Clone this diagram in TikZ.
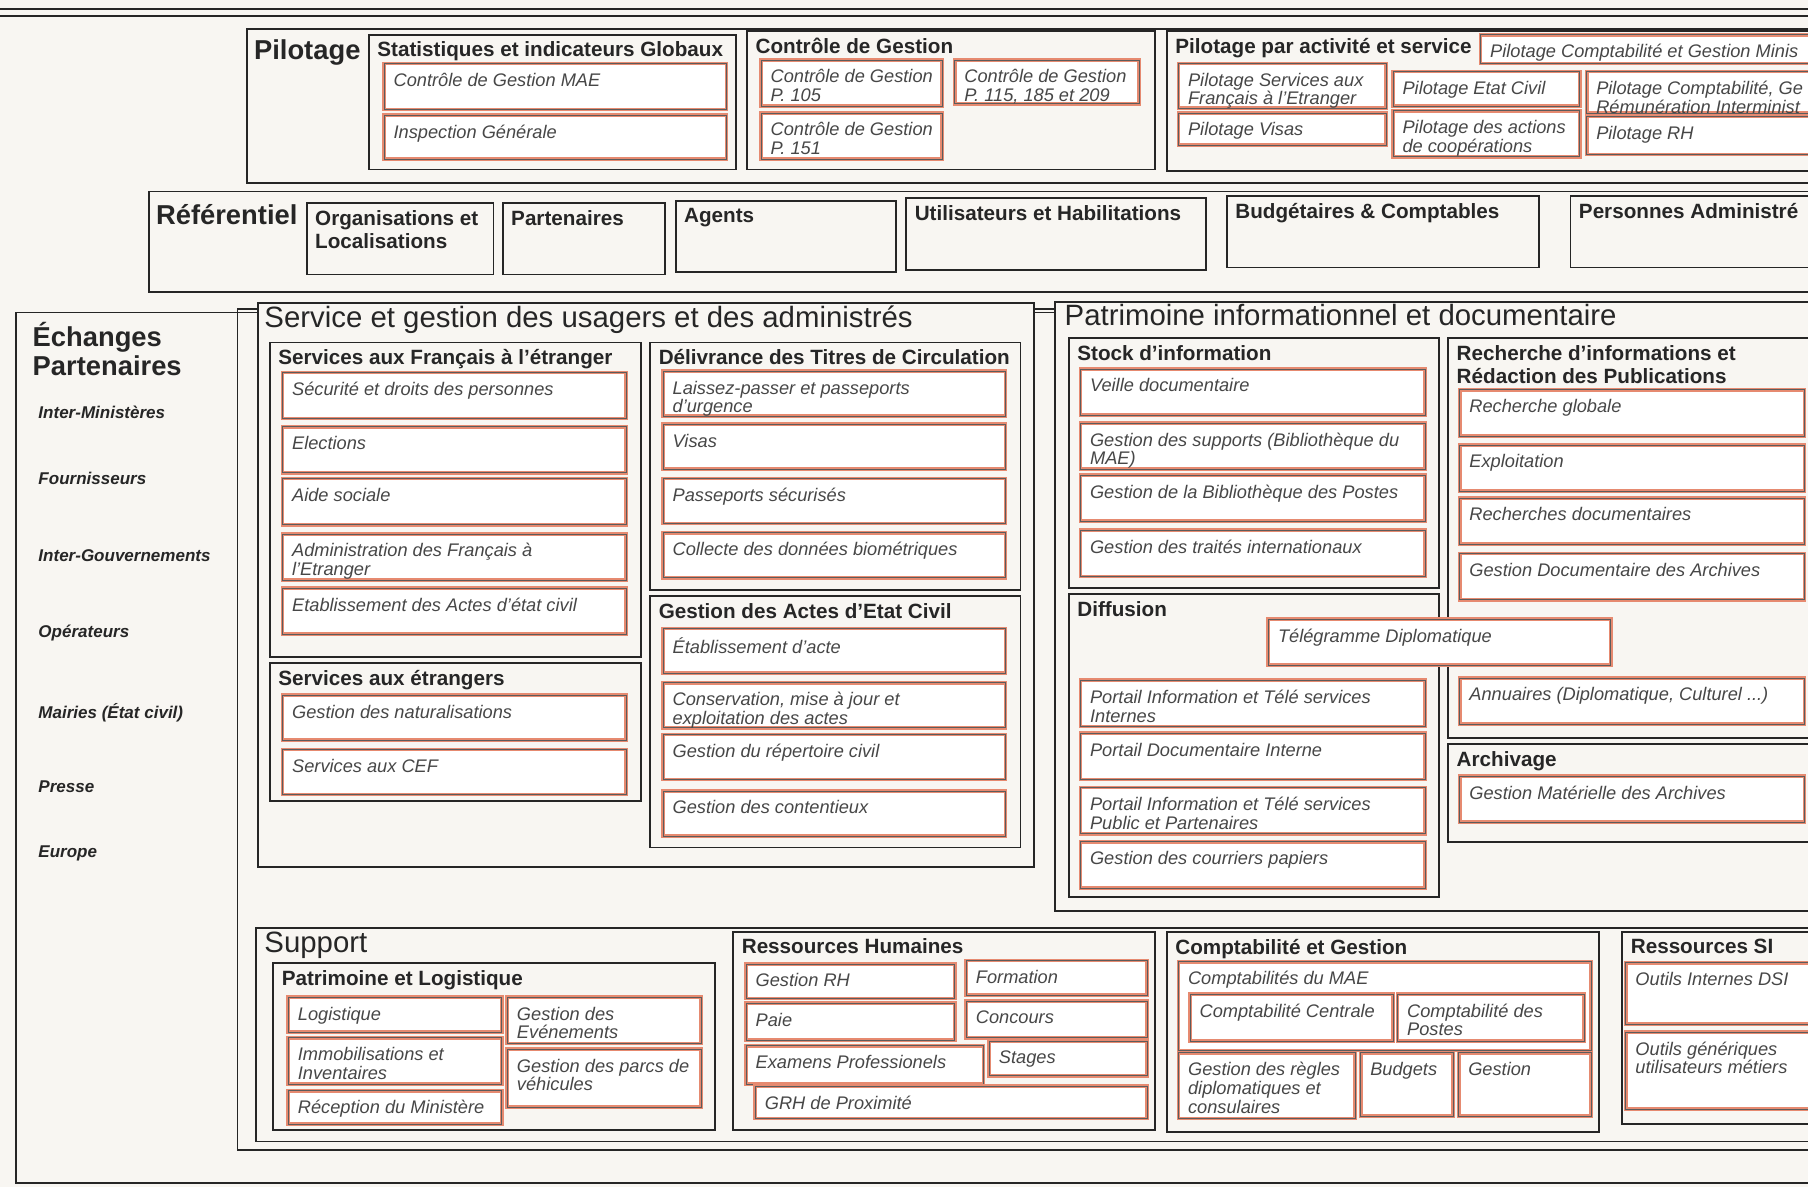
\documentclass[tikz,border=0pt]{standalone}
\usepackage{fontspec}
\setmainfont{Liberation Sans}
\usetikzlibrary{positioning}

\definecolor{paper}{RGB}{248,246,242}
\definecolor{cellred}{RGB}{230,138,112}
\definecolor{ink}{RGB}{38,38,38}

\tikzstyle{frame} = [draw=ink, line width=0.9pt]
\tikzstyle{cell} = [fill=white, draw=cellred, line width=1.9pt, postaction={draw=ink!75, line width=0.35pt}]
\tikzstyle{celltext} = [anchor=north west, inner sep=0pt, align=left, text=ink!85, font=\fontsize{9}{9.2}\selectfont\itshape]
\tikzstyle{grouptitle} = [anchor=north west, inner sep=0pt, align=left, text=ink, font=\fontsize{10.2}{11.5}\selectfont\bfseries]
\tikzstyle{areatitle} = [anchor=west, inner sep=0pt, text=ink, font=\fontsize{14.5}{16}\selectfont]
\tikzstyle{sidetitle} = [anchor=north west, inner sep=0pt, align=left, text=ink, font=\fontsize{13.5}{14.5}\selectfont\bfseries]
\tikzstyle{partner} = [anchor=west, inner sep=0pt, text=ink, font=\fontsize{8.4}{9}\selectfont\bfseries\itshape]

% #1 name, #2 #3 top left, #4 #5 bottom right, #6 text
\newcommand{\addcell}[6]{%
	\draw[cell] (#2,#3) rectangle (#4,#5);
	\node[celltext] (#1) at (#2+8,#3+8) {#6};
}
\newcommand{\addgroup}[6]{%
	\draw[frame] (#2,#3) rectangle (#4,#5);
	\node[grouptitle] (#1) at (#2+7,#3+6) {#6};
}

\begin{document}
\begin{tikzpicture}[x=0.02cm,y=-0.02cm]
	\useasboundingbox (0,0) rectangle (1568,1029);
	\fill[paper] (0,0) rectangle (1568,1029);
	\clip (0,0) rectangle (1568,1029);
	\draw[frame] (0,8) -- (1568,8) (0,14) -- (1568,14);

	% Pilotage
	\draw[frame] (214,25) rectangle (1600,159);
	\node[sidetitle] (pilotage) at (220,34) {Pilotage};
	\addgroup{stats}{320}{30}{638}{147}{Statistiques et indicateurs Globaux}
	\addcell{cgmae}{333}{55}{630}{95}{Contrôle de Gestion MAE}
	\addcell{ig}{333}{100}{630}{138}{Inspection Générale}
	\addgroup{cg}{648}{27}{1002}{147}{Contrôle de Gestion}
	\addcell{cga}{660}{52}{817}{92}{Contrôle de Gestion\\P. 105}
	\addcell{cgb}{828}{52}{988}{90}{Contrôle de Gestion\\P. 115, 185 et 209}
	\addcell{cgc}{660}{98}{817}{138}{Contrôle de Gestion\\P. 151}
	\addgroup{pas}{1012}{27}{1600}{148}{Pilotage par activité et service}
	\addcell{pcgm}{1284}{30}{1600}{55}{Pilotage Comptabilité et Gestion Minis}
	\addcell{psfe}{1022}{55}{1202}{94}{Pilotage Services aux\\Français à l'Etranger}
	\addcell{pvis}{1022}{98}{1202}{126}{Pilotage Visas}
	\addcell{pec}{1208}{62}{1370}{92}{Pilotage Etat Civil}
	\addcell{pac}{1208}{96}{1370}{136}{Pilotage des actions\\de coopérations}
	\addcell{pcgr}{1376}{62}{1600}{98}{Pilotage Comptabilité, Ge\\Rémunération Interminist}
	\addcell{prh}{1376}{101}{1600}{134}{Pilotage RH}

	% Referentiel
	\draw[frame] (129,166) rectangle (1600,253);
	\node[sidetitle] (ref) at (135,177) {Référentiel};
	\addgroup{org}{266}{176}{428}{238}{Organisations et\\Localisations}
	\addgroup{part}{436}{176}{577}{238}{Partenaires}
	\addgroup{agents}{586}{174}{777}{236}{Agents}
	\addgroup{util}{786}{172}{1046}{234}{Utilisateurs et Habilitations}
	\addgroup{budg}{1064}{170}{1335}{232}{Budgétaires \& Comptables}
	\addgroup{pers}{1362}{170}{1600}{232}{Personnes Administré}

	% Echanges
	\draw[frame] (14,271) rectangle (1600,1026);
	\draw[frame] (206,268) rectangle (1600,997);
	\node[sidetitle] (ech) at (28,279) {Échanges\\Partenaires};
	\foreach \y/\t in {358/Inter-Ministères, 415/Fournisseurs, 482/Inter-Gouvernements, 549/Opérateurs, 618/Mairies (État civil), 682/Presse, 740/Europe}
		\node[partner] (p\y) at (33,\y) {\t};

	% Service et gestion
	\draw[frame, fill=paper] (224,263) rectangle (897,752);
	\node[areatitle] (usagers) at (229,277) {Service et gestion des usagers et des administrés};
	\addgroup{sfe}{234}{297}{556}{570}{Services aux Français à l'étranger}
	\foreach \y/\t [count=\i] in {323/{Sécurité et droits des personnes}, 370/Elections, 415/{Aide sociale}, 463/{Administration des Français à\\l'Etranger}, 510/{Etablissement des Actes d'état civil}} {
		\addcell{sfe\i}{245}{\y}{543}{\y+40}{\t}
	}
	\addgroup{set}{234}{575}{556}{695}{Services aux étrangers}
	\foreach \y/\t [count=\i] in {603/{Gestion des naturalisations}, 650/{Services aux CEF}} {
		\addcell{set\i}{245}{\y}{543}{\y+39}{\t}
	}
	\addgroup{dtc}{564}{297}{885}{512}{Délivrance des Titres de Circulation}
	\foreach \y/\t [count=\i] in {322/{Laissez-passer et passeports\\d'urgence}, 368/Visas, 415/{Passeports sécurisés}, 462/{Collecte des données biométriques}} {
		\addcell{dtc\i}{575}{\y}{872}{\y+39}{\t}
	}
	\addgroup{gaec}{564}{517}{885}{735}{Gestion des Actes d'Etat Civil}
	\foreach \y/\t [count=\i] in {545/{Établissement d'acte}, 592/{Conservation, mise à jour et\\exploitation des actes}, 637/{Gestion du répertoire civil}, 686/{Gestion des contentieux}} {
		\addcell{gaec\i}{575}{\y}{872}{\y+39}{\t}
	}

	% Patrimoine informationnel
	\draw[frame, fill=paper] (915,262) rectangle (1600,790);
	\node[areatitle] (patri) at (923,273) {Patrimoine informationnel et documentaire};
	\addgroup{stock}{927}{293}{1248}{510}{Stock d'information}
	\addgroup{rech}{1256}{293}{1600}{640}{Recherche d'informations et\\Rédaction des Publications}
	\addgroup{diff}{927}{515}{1248}{778}{Diffusion}
	\addgroup{arch}{1256}{645}{1600}{730}{Archivage}
	\foreach \y/\t [count=\i] in {320/{Veille documentaire}, 367/{Gestion des supports (Bibliothèque du\\MAE)}, 412/{Gestion de la Bibliothèque des Postes}, 460/{Gestion des traités internationaux}} {
		\addcell{stock\i}{937}{\y}{1236}{\y+40}{\t}
	}
	\foreach \y/\t [count=\i] in {338/{Recherche globale}, 386/Exploitation, 432/{Recherches documentaires}, 480/{Gestion Documentaire des Archives}, 588/{Annuaires (Diplomatique, Culturel ...)}} {
		\addcell{rech\i}{1266}{\y}{1565}{\y+40}{\t}
	}
	\foreach \y/\t [count=\i] in {590/{Portail Information et Télé services\\Internes}, 636/{Portail Documentaire Interne}, 683/{Portail Information et Télé services\\Public et Partenaires}, 730/{Gestion des courriers papiers}} {
		\addcell{diff\i}{937}{\y}{1236}{\y+40}{\t}
	}
	\addcell{arch1}{1266}{673}{1565}{713}{Gestion Matérielle des Archives}
	\addcell{tele}{1100}{537}{1397}{577}{Télégramme Diplomatique}

	% Support
	\draw[frame, fill=paper] (222,805) rectangle (1600,990);
	\node[areatitle] (support) at (229,820) {Support};
	\addgroup{patlog}{237}{835}{620}{980}{Patrimoine et Logistique}
	\addcell{logi}{250}{865}{435}{895}{Logistique}
	\addcell{immo}{250}{900}{435}{940}{Immobilisations et\\Inventaires}
	\addcell{recep}{250}{946}{435}{975}{Réception du Ministère}
	\addcell{even}{440}{865}{608}{905}{Gestion des\\Evénements}
	\addcell{parcs}{440}{910}{608}{960}{Gestion des parcs de\\véhicules}
	\addgroup{rh}{636}{808}{1002}{980}{Ressources Humaines}
	\addcell{grh}{647}{836}{828}{866}{Gestion RH}
	\addcell{paie}{647}{870}{828}{902}{Paie}
	\addcell{exam}{647}{907}{853}{940}{Examens Professionels}
	\addcell{form}{838}{833}{995}{863}{Formation}
	\addcell{conc}{838}{868}{995}{900}{Concours}
	\addcell{stag}{858}{903}{995}{933}{Stages}
	\addcell{prox}{655}{942}{995}{970}{GRH de Proximité}
	\addgroup{compta}{1012}{808}{1387}{982}{Comptabilité et Gestion}
	\addcell{cmae}{1022}{834}{1380}{911}{Comptabilités du MAE}
	\addcell{ccent}{1032}{862}{1208}{903}{Comptabilité Centrale}
	\addcell{cpost}{1212}{862}{1374}{903}{Comptabilité des\\Postes}
	\addcell{regles}{1022}{913}{1175}{970}{Gestion des règles\\diplomatiques et\\consulaires}
	\addcell{budgets}{1180}{913}{1260}{968}{Budgets}
	\addcell{gestion}{1265}{913}{1380}{968}{Gestion}
	\addgroup{si}{1407}{808}{1600}{975}{Ressources SI}
	\addcell{dsi}{1410}{835}{1600}{888}{Outils Internes DSI}
	\addcell{outils}{1410}{895}{1600}{962}{Outils génériques\\utilisateurs métiers}
\end{tikzpicture}
\end{document}
